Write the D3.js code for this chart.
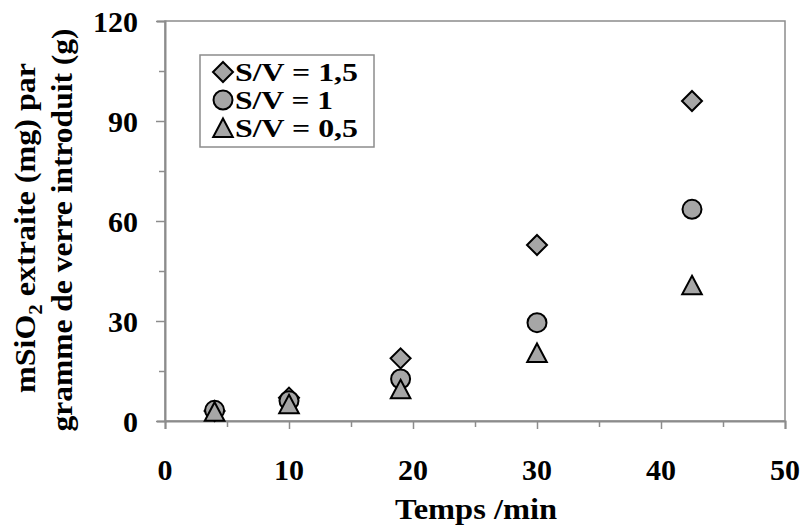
<!DOCTYPE html>
<html><head><meta charset="utf-8">
<script src="https://cdn.jsdelivr.net/npm/d3@7"></script>
<style>
html,body{margin:0;padding:0;background:#fff;}
text{font-family:"Liberation Serif","Times New Roman",serif;font-weight:bold;fill:#000;}
</style></head>
<body>
<svg id="chart" width="805" height="528"></svg>
<script>
const times = [4, 10, 19, 30, 42.5];
const sv15 = [3, 7, 18.8, 52.8, 96];
const sv1 = [3.2, 6.1, 12.6, 29.5, 63.5];
const sv05 = [2.8, 5.0, 9.5, 20.4, 40.7];
const seriesNames = ["S/V = 1,5", "S/V = 1", "S/V = 0,5"];
const xTicks = [0, 10, 20, 30, 40, 50];
const yTicks = [0, 30, 60, 90, 120];
const xTitle = "Temps /min";

const svg = d3.select("#chart");
const L = 165, R = 785, T = 21, B = 421;
const x = d3.scaleLinear().domain([0, 50]).range([L, R]);
const y = d3.scaleLinear().domain([0, 120]).range([B, T]);
const axisColor = "#8c8c8c";
const fill = "#a6a6a6";

// plot box
svg.append("rect").attr("x", L).attr("y", T).attr("width", R - L).attr("height", B - T)
  .attr("fill", "none").attr("stroke", axisColor).attr("stroke-width", 1.5);

// x axis
const xAxis = d3.axisBottom(x).tickValues(d3.range(0, 51, 5)).tickSize(8).tickFormat("");
const gx = svg.append("g").attr("transform", `translate(0,${B})`).call(xAxis);
gx.selectAll("line").attr("stroke", axisColor).attr("stroke-width", 1.5)
  .attr("y2", d => d % 10 === 0 ? 8 : 6);
gx.select(".domain").attr("stroke", axisColor).attr("stroke-width", 2);
svg.append("g").selectAll("text").data(xTicks).join("text")
  .attr("x", d => x(d)).attr("y", 480).attr("text-anchor", "middle")
  .style("font-size", "30px").text(d => d);

// y axis
const yAxis = d3.axisLeft(y).tickValues(d3.range(0, 121, 15)).tickSize(8).tickFormat("");
const gy = svg.append("g").attr("transform", `translate(${L},0)`).call(yAxis);
gy.selectAll("line").attr("stroke", axisColor).attr("stroke-width", 1.5)
  .attr("x2", d => d % 30 === 0 ? -9 : -6);
gy.select(".domain").attr("stroke", axisColor).attr("stroke-width", 2);
svg.append("g").selectAll("text").data(yTicks).join("text")
  .attr("x", 138).attr("y", d => y(d)).attr("dy", "0.35em").attr("text-anchor", "end")
  .style("font-size", "30px").text(d => d);

// titles
svg.append("text").attr("x", 476).attr("y", 519).attr("text-anchor", "middle")
  .attr("textLength", 162).attr("lengthAdjust", "spacingAndGlyphs")
  .style("font-size", "30px").text(xTitle);
const yt = svg.append("text").attr("transform", "translate(35,228) rotate(-90)")
  .attr("text-anchor", "middle").style("font-size", "29px")
  .attr("textLength", 330).attr("lengthAdjust", "spacingAndGlyphs");
yt.append("tspan").text("mSiO");
yt.append("tspan").attr("dy", 7).style("font-size", "19px").text("2");
yt.append("tspan").attr("dy", -7).text(" extraite (mg) par");
svg.append("text").attr("transform", "translate(72,230) rotate(-90)")
  .attr("text-anchor", "middle").style("font-size", "29px")
  .attr("textLength", 403).attr("lengthAdjust", "spacingAndGlyphs")
  .text("gramme de verre introduit (g)");

// marker shapes
const shapes = [
  () => "M0,-10L10,0L0,10L-10,0Z",
  () => d3.arc()({innerRadius: 0, outerRadius: 9.5, startAngle: 0, endAngle: 2 * Math.PI}),
  () => "M0,-9.5L9.8,9L-9.8,9Z"
];
const data = [sv15, sv1, sv05];
data.forEach((vals, i) => {
  svg.append("g").selectAll("path").data(vals.map((v, j) => ({t: times[j], v})))
    .join("path")
    .attr("transform", d => `translate(${x(d.t)},${y(d.v)})`)
    .attr("d", shapes[i]())
    .attr("fill", fill).attr("stroke", "#000").attr("stroke-width", 2);
});

// legend
const legendWidths = [123, 98, 123];
const lg = svg.append("g");
lg.append("rect").attr("x", 200).attr("y", 55).attr("width", 174).attr("height", 92)
  .attr("fill", "#fff").attr("stroke", axisColor).attr("stroke-width", 1.5);
seriesNames.forEach((name, i) => {
  const cy = 72 + i * 28;
  lg.append("path").attr("transform", `translate(223,${cy})`).attr("d", shapes[i]())
    .attr("fill", fill).attr("stroke", "#000").attr("stroke-width", 2);
  lg.append("text").attr("x", 235).attr("y", cy + 9).style("font-size", "25px")
    .attr("textLength", legendWidths[i]).attr("lengthAdjust", "spacingAndGlyphs")
    .text(name);
});
</script>
</body></html>
